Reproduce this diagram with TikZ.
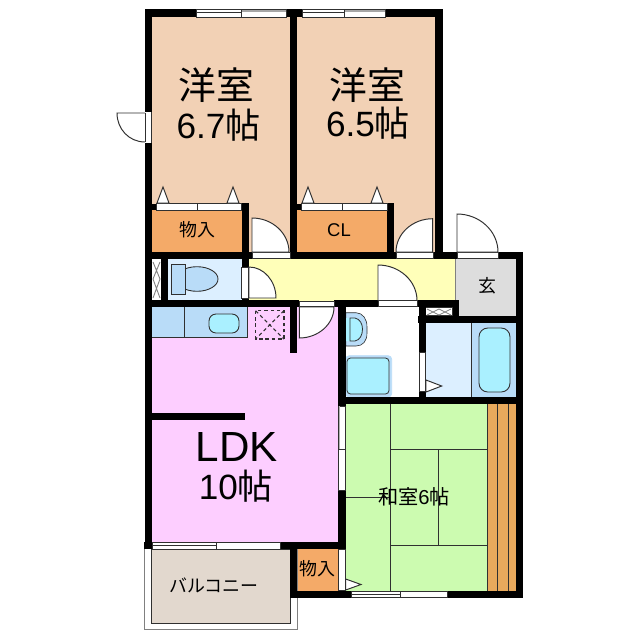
\documentclass[tikz,border=0pt]{standalone}
\usepackage{fontspec}
\setmainfont{Liberation Sans}
\newfontfamily\cjk{Noto Sans CJK JP}
\usetikzlibrary{calc}
\definecolor{peach}{HTML}{F2D1B5}
\definecolor{closet}{HTML}{F4AA68}
\definecolor{corridor}{HTML}{FFFFB9}
\definecolor{ldk}{HTML}{FDCEFF}
\definecolor{pale}{HTML}{DCEFFF}
\definecolor{mid}{HTML}{B9DCF8}
\definecolor{aqua}{HTML}{AAF0FF}
\definecolor{tatami}{HTML}{CCFBB0}
\definecolor{balcony}{HTML}{E2D8CE}
\definecolor{genkan}{HTML}{DDDDDD}
\definecolor{toko}{HTML}{E8A95C}
\definecolor{ink}{HTML}{303030}
\tikzset{
  wall/.style={fill=black,draw=none},
  thinl/.style={draw=ink,line width=0.45pt},
  white box/.style={fill=white,draw=ink,line width=0.4pt},
  leaf/.style={fill=white,draw=ink,line width=0.55pt},
  bigt/.style={inner sep=0,font=\fontsize{21.5}{24}\selectfont},
  numt/.style={inner sep=0,font=\fontsize{20}{24}\selectfont},
  latint/.style={inner sep=0,font=\fontsize{24}{28}\selectfont},
  smallt/.style={inner sep=0,font=\cjk\fontsize{10.2}{12}\selectfont},
}
\newcommand{\rct}[3][wall]{\path[#1] (#2) rectangle (#3);}
\newcommand{\doorleaf}[3]{\path[leaf] (#1) -- (#2) .. controls ($(#2)+.55*(#3)-.55*(#1)$) and ($(#3)+.55*(#2)-.55*(#1)$) .. (#3) -- cycle;}
\newcommand{\hwin}[5]{% x1 x2 y1 y2 xm
  \path[white box] (#1,#3) rectangle (#2,#4);
  \path[fill=gray!70] (#5,#3) rectangle (#2,#3+2.5);
  \draw[thinl] (#1,#3+3) -- (#5,#3+3);
  \draw[thinl] (#5,#3) -- (#5,#4);
}
\begin{document}
\begin{tikzpicture}[x=0.02cm,y=-0.02cm]
\useasboundingbox (0,0) rectangle (640,640);
\fill[white] (0,0) rectangle (640,640);
% ---------- room fills
\rct[fill=peach]{150,15}{292,255}
\rct[fill=peach]{295,15}{437,255}
\rct[fill=closet]{150,208}{243,254}
\rct[fill=closet]{295,208}{389,254}
\rct[fill=corridor]{246,257}{456,302}
\rct[fill=genkan,draw=gray,line width=0.4pt]{455.7,258}{517,316.5}
\rct[fill=white]{150,257}{163,302}
\rct[fill=pale,draw=ink,line width=0.3pt]{167,258.5}{242,300}
\rct[fill=ldk]{150,305}{340,545}
\rct[fill=white]{344,305}{421,399}
\rct[fill=pale]{424,321}{471,399}
\rct[fill=mid]{471,321}{517,399}
\rct[fill=tatami]{344,402}{487,592}
\rct[fill=toko]{487,402}{517,592}
\rct[fill=closet]{295,547}{340,592}
% ---------- balcony
\rct[fill=white,draw=gray,line width=0.5pt]{144,545}{297,629}
\rct[fill=balcony,draw=ink,line width=0.5pt]{151.7,549}{290,623}
% ---------- fittings
\rct[fill=mid,draw=ink,line width=0.3pt]{151,306}{247.7,337.7}
\draw[thinl] (184,307) -- (184,337.7);
\path[fill=aqua,draw=ink,line width=0.5pt,rounded corners=4pt] (209,314) rectangle (239,333);
\path[draw=ink,line width=0.7pt,dash pattern=on 2pt off 1.6pt] (255.7,310.7) rectangle (284,339);
\path[draw=ink,line width=0.6pt,dash pattern=on 2pt off 1.6pt] (255.7,310.7) -- (284,339) (284,310.7) -- (255.7,339);
% toilet
\path[fill=mid,draw=ink,line width=0.5pt] (197,279) ellipse[x radius=21,y radius=12.3];
\rct[fill=mid,draw=ink,line width=0.5pt]{171,264.5}{185,294.5}
% wc closet cross
\draw[gray,line width=0.5pt] (153,262) -- (160,279) -- (153,298) (160,262) -- (153,279) -- (160,298);
% washroom
\path[fill=mid,draw=ink,line width=0.35pt] (345.7,312.7) -- (356,312.7) .. controls (363,313) and (367,319) .. (367,327) -- (367,333) .. controls (367,341) and (363,346) .. (356,346) -- (345.7,346) -- cycle;
\path[fill=aqua] (345.7,318) -- (355,318) .. controls (360,319) and (362.5,324) .. (362.5,329) .. controls (362.5,335) and (360,340) .. (355,341) -- (345.7,341) -- cycle;
\draw[thinl] (350,318) -- (355,318) .. controls (360,319) and (362.5,324) .. (362.5,329) .. controls (362.5,335) and (360,340) .. (355,341) -- (350,341) -- cycle;
\path[fill=mid,draw=mid,rounded corners=2pt] (345.7,355.7) rectangle (391.7,397);
\path[fill=aqua,draw=ink,line width=0.45pt,rounded corners=2pt] (347,358) rectangle (389,394);
% bath
\draw[thinl] (471,323) -- (471,397);
\path[fill=aqua,draw=ink,line width=0.5pt,rounded corners=5pt] (479,328) rectangle (510,392);
% tatami lines
\draw[thinl] (390.3,404) -- (390.3,591) (390.3,449) -- (487,449) (390.3,545.7) -- (487,545.7) (438.7,449) -- (438.7,545.7) (345.7,497.3) -- (390.3,497.3);
\draw[thinl] (487,404) -- (487,591) (497.7,404) -- (497.7,591) (508,404) -- (508,591);
% ---------- walls
\rct{145,9}{196,17}
\rct{286,9}{302,17}
\rct{385,9}{442.5,17}
\rct{145,9}{152,112}
\rct{145,143}{152,549}
\rct{290,9}{297,259}
\rct{435,9}{442.5,259}
\rct{145,252}{252,259}
\rct{290,252}{396,259}
\rct{433,252}{457,259}
\rct{498,252}{523,259}
\rct{515.7,252}{523,598}
\rct{241.7,203}{248.5,267}
\rct{387,203}{394,259}
\rct{145,203.5}{156,210}
\rct{297,203.5}{301,210}
\rct{161,259}{168,300}
\rct{145,300}{299,307}
\rct{334,300}{378,307}
\rct{417,300}{458.5,307}
\rct{241.7,298}{248.5,307}
\rct{290,300}{297,352.7}
\rct{338,300}{345.7,406}
\rct{338,490.7}{345.7,598}
\rct{419,300}{426,352.7}
\rct{419,391.7}{426,404}
\rct{452,300}{458.5,323}
\rct{418,316}{523,323}
\rct{338,397}{523,404}
\rct{152,413}{245,420}
\rct{280,542}{345,549}
\rct{144,542}{152.7,549}
\rct{290,549}{297,597.7}
\rct{290,590.7}{351.7,597.7}
\rct{447,591}{523,598}
% ---------- windows and sliding rails
\hwin{196}{286}{9.5}{17}{241}
\hwin{302}{385}{9.5}{17}{344}
\path[white box] (152.7,542.5) rectangle (280,549);
\draw[thinl] (152.7,545) -- (216,545) (216,542.5) -- (216,549);
\path[white box] (351.7,591.7) rectangle (447,597);
\draw[thinl] (351.7,594) -- (400,594) (400,591.7) -- (400,597);
\path[white box] (338.5,406) rectangle (345.2,490.7);
\path[fill=gray!60] (338.5,406) rectangle (340,449);
\draw[thinl] (338.5,449) -- (345.2,449);
\path[white box] (419.5,352.7) rectangle (425.5,391.7);
\path[white box] (338.5,549) rectangle (345,590.7);
\path[white box] (156,203.5) rectangle (241,210);
\draw[thinl] (197.5,203) -- (197.5,211);
\path[white box] (301,203.5) rectangle (387,210);
\draw[thinl] (342.5,203) -- (342.5,211);
\rct[fill=white]{145.5,112}{151.5,143}
\draw[thinl] (151.7,112) -- (151.7,143);
% door rails
\path[white box] (252,252.7) rectangle (290,258.5);
\path[white box] (396,252.7) rectangle (433,258.5);
\path[white box] (457,252.7) rectangle (498,258.5);
\path[white box] (378,300.7) rectangle (417,306.7);
\path[white box] (299,301) rectangle (334,306.7);
\path[white box] (241.7,267) rectangle (248.5,298);
% door leaves
\path[leaf] (145,113) -- (117,113) .. controls (117,129) and (129,142) .. (145,142);
\draw[thinl] (145,113) -- (145,142);
\doorleaf{252,252}{252,218}{289,252}
\doorleaf{432.7,252}{432.7,218.7}{396,252}
\doorleaf{457,252}{457,214}{498,252}
\doorleaf{378,300.5}{378,265}{417,300.5}
\doorleaf{299.3,307}{299.3,338}{334,307}
\doorleaf{249,298}{276,298}{249,267}
% closet triangles
\foreach \a/\b in {157/169,227/239,302/314,371/383}
  \path[leaf] (\a,203) -- ({(\a+\b)/2},187) -- (\b,203) -- cycle;
\path[leaf] (426,380) -- (441.7,386) -- (426,392) -- cycle;
\path[leaf] (345.7,579) -- (361,584.5) -- (345.7,590) -- cycle;
% closets with a cross
\draw[thinl] (426,307.5) rectangle (452,315.5);
\path[fill=white] (426.4,307.8) rectangle (451.6,315.3);
\draw[gray,line width=0.5pt] (427,309) -- (439,315) -- (451,309) (427,315) -- (439,309) -- (451,315);
% ---------- labels
\node[bigt] (r1a) at (216,85) {\cjk 洋室};
\node[numt] (r1b) at (218.5,125) {6.7{\cjk 帖}};
\node[bigt] (r2a) at (367,85) {\cjk 洋室};
\node[numt] (r2b) at (368,123) {6.5{\cjk 帖}};
\node[latint] (l1) at (237,447) {LDK};
\node[numt] (l2) at (236,486) {10{\cjk 帖}};
\node[smallt] (c1) at (197,230) {物入};
\node[inner sep=0,font=\fontsize{10.5}{12}\selectfont] (c2) at (339,230) {CL};
\node[smallt] (g) at (487,286) {玄};
\node[smallt,font=\cjk\fontsize{11.5}{13}\selectfont] (w) at (414,497) {和室{\fontspec{Liberation Sans}6}帖};
\node[smallt] (b) at (214,585) {バルコニー};
\node[smallt] (c3) at (317,569) {物入};
\end{tikzpicture}
\end{document}
